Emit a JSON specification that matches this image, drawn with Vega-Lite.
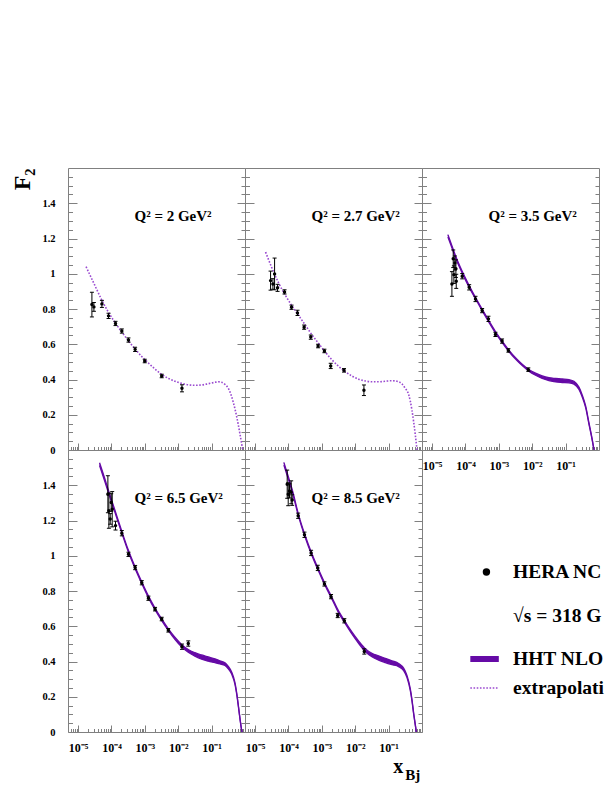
{
"$schema":"https://vega.github.io/schema/vega-lite/v6.json",
"background":"white",
"padding":{"left":10,"top":167,"right":0,"bottom":2},
"autosize":{"type":"pad"},
"bounds":"flush",
"spacing":0,
"columns":3,
"config":{
 "view":{"stroke":"#808080","strokeWidth":1},
 "axis":{"domain":false,"grid":false,"tickColor":"#808080","tickWidth":1,"labelFont":"Liberation Serif","labelFontWeight":"bold","labelFontSize":10.5,"labelColor":"#000","labelOverlap":false,"labelBound":false,"labelFlush":false},
 "text":{"font":"Liberation Serif","fontWeight":"bold","color":"#000"}
},
"datasets":{
 "pts":[
  {"q2":2,"x":0.000026,"y":0.825,"lo":0.755,"hi":0.895},
  {"q2":2,"x":0.00002985,"y":0.812,"lo":0.787,"hi":0.837},
  {"q2":2,"x":0.0000518,"y":0.829,"lo":0.809,"hi":0.849},
  {"q2":2,"x":0.0000818,"y":0.761,"lo":0.746,"hi":0.776},
  {"q2":2,"x":0.0001324,"y":0.718,"lo":0.706,"hi":0.73},
  {"q2":2,"x":0.0002046,"y":0.675,"lo":0.663,"hi":0.687},
  {"q2":2,"x":0.0003236,"y":0.624,"lo":0.612,"hi":0.636},
  {"q2":2,"x":0.000512,"y":0.571,"lo":0.559,"hi":0.583},
  {"q2":2,"x":0.000993,"y":0.505,"lo":0.495,"hi":0.515},
  {"q2":2,"x":0.003199,"y":0.42,"lo":0.41,"hi":0.43},
  {"q2":2,"x":0.01294,"y":0.35,"lo":0.33,"hi":0.37},
  {"q2":2.7,"x":0.00002917,"y":0.961,"lo":0.907,"hi":1.015},
  {"q2":2.7,"x":0.0000343,"y":0.942,"lo":0.912,"hi":0.972},
  {"q2":2.7,"x":0.00003846,"y":0.999,"lo":0.909,"hi":1.089},
  {"q2":2.7,"x":0.0000472,"y":0.92,"lo":0.9,"hi":0.94},
  {"q2":2.7,"x":0.0000764,"y":0.897,"lo":0.885,"hi":0.909},
  {"q2":2.7,"x":0.0001236,"y":0.81,"lo":0.798,"hi":0.822},
  {"q2":2.7,"x":0.0001866,"y":0.778,"lo":0.763,"hi":0.793},
  {"q2":2.7,"x":0.0002951,"y":0.697,"lo":0.685,"hi":0.709},
  {"q2":2.7,"x":0.0004667,"y":0.641,"lo":0.629,"hi":0.653},
  {"q2":2.7,"x":0.0007727,"y":0.59,"lo":0.58,"hi":0.6},
  {"q2":2.7,"x":0.001194,"y":0.562,"lo":0.552,"hi":0.572},
  {"q2":2.7,"x":0.001845,"y":0.477,"lo":0.462,"hi":0.492},
  {"q2":2.7,"x":0.004613,"y":0.452,"lo":0.442,"hi":0.462},
  {"q2":2.7,"x":0.01824,"y":0.339,"lo":0.309,"hi":0.369},
  {"q2":3.5,"x":0.00003936,"y":0.942,"lo":0.872,"hi":1.012},
  {"q2":3.5,"x":0.00004305,"y":1.085,"lo":1.035,"hi":1.135},
  {"q2":3.5,"x":0.00004508,"y":0.995,"lo":0.945,"hi":1.045},
  {"q2":3.5,"x":0.00004831,"y":1.061,"lo":1.021,"hi":1.101},
  {"q2":3.5,"x":0.00005176,"y":1.029,"lo":0.979,"hi":1.079},
  {"q2":3.5,"x":0.000053,"y":0.957,"lo":0.917,"hi":0.997},
  {"q2":3.5,"x":0.00008,"y":0.986,"lo":0.971,"hi":1.001},
  {"q2":3.5,"x":0.0001294,"y":0.923,"lo":0.908,"hi":0.938},
  {"q2":3.5,"x":0.0002,"y":0.857,"lo":0.842,"hi":0.872},
  {"q2":3.5,"x":0.0003162,"y":0.791,"lo":0.779,"hi":0.803},
  {"q2":3.5,"x":0.0004887,"y":0.744,"lo":0.729,"hi":0.759},
  {"q2":3.5,"x":0.0007907,"y":0.656,"lo":0.644,"hi":0.668},
  {"q2":3.5,"x":0.00125,"y":0.618,"lo":0.606,"hi":0.63},
  {"q2":3.5,"x":0.001932,"y":0.565,"lo":0.555,"hi":0.575},
  {"q2":3.5,"x":0.00764,"y":0.456,"lo":0.446,"hi":0.466},
  {"q2":6.5,"x":0.0000782,"y":1.349,"lo":1.244,"hi":1.454},
  {"q2":6.5,"x":0.0000838,"y":1.256,"lo":1.156,"hi":1.356},
  {"q2":6.5,"x":0.0000918,"y":1.209,"lo":1.179,"hi":1.239},
  {"q2":6.5,"x":0.0000984,"y":1.302,"lo":1.252,"hi":1.352},
  {"q2":6.5,"x":0.0001054,"y":1.264,"lo":1.164,"hi":1.364},
  {"q2":6.5,"x":0.0001324,"y":1.171,"lo":1.146,"hi":1.196},
  {"q2":6.5,"x":0.0002046,"y":1.128,"lo":1.113,"hi":1.143},
  {"q2":6.5,"x":0.0003236,"y":1.008,"lo":0.996,"hi":1.02},
  {"q2":6.5,"x":0.000513,"y":0.933,"lo":0.921,"hi":0.945},
  {"q2":6.5,"x":0.000809,"y":0.847,"lo":0.835,"hi":0.859},
  {"q2":6.5,"x":0.001279,"y":0.759,"lo":0.747,"hi":0.771},
  {"q2":6.5,"x":0.002023,"y":0.697,"lo":0.687,"hi":0.707},
  {"q2":6.5,"x":0.003199,"y":0.641,"lo":0.631,"hi":0.651},
  {"q2":6.5,"x":0.005058,"y":0.577,"lo":0.567,"hi":0.587},
  {"q2":6.5,"x":0.01294,"y":0.484,"lo":0.469,"hi":0.499},
  {"q2":6.5,"x":0.02,"y":0.502,"lo":0.487,"hi":0.517},
  {"q2":8.5,"x":0.0000918,"y":1.406,"lo":1.326,"hi":1.486},
  {"q2":8.5,"x":0.0000984,"y":1.349,"lo":1.284,"hi":1.414},
  {"q2":8.5,"x":0.0001076,"y":1.368,"lo":1.328,"hi":1.408},
  {"q2":8.5,"x":0.0001208,"y":1.36,"lo":1.295,"hi":1.425},
  {"q2":8.5,"x":0.0001294,"y":1.316,"lo":1.286,"hi":1.346},
  {"q2":8.5,"x":0.0001954,"y":1.227,"lo":1.212,"hi":1.242},
  {"q2":8.5,"x":0.000302,"y":1.119,"lo":1.104,"hi":1.134},
  {"q2":8.5,"x":0.0004775,"y":1.016,"lo":1.001,"hi":1.031},
  {"q2":8.5,"x":0.000755,"y":0.931,"lo":0.916,"hi":0.946},
  {"q2":8.5,"x":0.001194,"y":0.84,"lo":0.828,"hi":0.852},
  {"q2":8.5,"x":0.001888,"y":0.768,"lo":0.756,"hi":0.78},
  {"q2":8.5,"x":0.002985,"y":0.661,"lo":0.649,"hi":0.673},
  {"q2":8.5,"x":0.004721,"y":0.631,"lo":0.619,"hi":0.643},
  {"q2":8.5,"x":0.01866,"y":0.457,"lo":0.442,"hi":0.472}
 ],
 "extrap":[
  {"q2":2,"x":0.00001738,"f":1.04},{"q2":2,"x":0.00003162,"f":0.935},{"q2":2,"x":0.00005012,"f":0.855},{"q2":2,"x":0.00007943,"f":0.785},
  {"q2":2,"x":0.0001259,"f":0.725},{"q2":2,"x":0.0001995,"f":0.672},{"q2":2,"x":0.0003162,"f":0.622},{"q2":2,"x":0.0005012,"f":0.575},
  {"q2":2,"x":0.0007943,"f":0.532},{"q2":2,"x":0.001259,"f":0.495},{"q2":2,"x":0.001995,"f":0.46},{"q2":2,"x":0.003162,"f":0.43},
  {"q2":2,"x":0.005012,"f":0.407},{"q2":2,"x":0.007943,"f":0.39},{"q2":2,"x":0.01259,"f":0.378},{"q2":2,"x":0.01995,"f":0.37},
  {"q2":2,"x":0.03162,"f":0.367},{"q2":2,"x":0.05012,"f":0.369},{"q2":2,"x":0.07943,"f":0.376},{"q2":2,"x":0.1259,"f":0.384},
  {"q2":2,"x":0.1585,"f":0.387},{"q2":2,"x":0.1995,"f":0.384},{"q2":2,"x":0.2512,"f":0.372},{"q2":2,"x":0.3162,"f":0.35},
  {"q2":2,"x":0.3548,"f":0.33},{"q2":2,"x":0.4467,"f":0.27},{"q2":2,"x":0.5623,"f":0.19},{"q2":2,"x":0.7079,"f":0.09},{"q2":2,"x":0.851,"f":0.0},
  {"q2":2.7,"x":0.0000207,"f":1.123},{"q2":2.7,"x":0.00003162,"f":1.035},{"q2":2.7,"x":0.00005012,"f":0.95},{"q2":2.7,"x":0.00007943,"f":0.88},
  {"q2":2.7,"x":0.0001259,"f":0.82},{"q2":2.7,"x":0.0001995,"f":0.765},{"q2":2.7,"x":0.0003162,"f":0.71},{"q2":2.7,"x":0.0005012,"f":0.655},
  {"q2":2.7,"x":0.0007943,"f":0.605},{"q2":2.7,"x":0.001259,"f":0.557},{"q2":2.7,"x":0.001995,"f":0.512},{"q2":2.7,"x":0.003162,"f":0.475},
  {"q2":2.7,"x":0.005012,"f":0.445},{"q2":2.7,"x":0.007943,"f":0.42},{"q2":2.7,"x":0.01259,"f":0.402},{"q2":2.7,"x":0.01995,"f":0.392},
  {"q2":2.7,"x":0.03162,"f":0.387},{"q2":2.7,"x":0.05012,"f":0.387},{"q2":2.7,"x":0.07943,"f":0.39},{"q2":2.7,"x":0.1259,"f":0.393},
  {"q2":2.7,"x":0.1778,"f":0.39},{"q2":2.7,"x":0.2512,"f":0.375},{"q2":2.7,"x":0.3162,"f":0.35},{"q2":2.7,"x":0.3981,"f":0.315},
  {"q2":2.7,"x":0.5012,"f":0.225},{"q2":2.7,"x":0.5623,"f":0.16},{"q2":2.7,"x":0.631,"f":0.085},{"q2":2.7,"x":0.7079,"f":0.0}
 ],
 "band":[
  {"q2":3.5,"x":0.00002985,"lo":1.208,"hi":1.222},{"q2":3.5,"x":0.00003981,"lo":1.144,"hi":1.156},{"q2":3.5,"x":0.00005012,"lo":1.092,"hi":1.104},
  {"q2":3.5,"x":0.00007943,"lo":1.005,"hi":1.015},{"q2":3.5,"x":0.0001259,"lo":0.927,"hi":0.937},{"q2":3.5,"x":0.0001995,"lo":0.858,"hi":0.866},
  {"q2":3.5,"x":0.0003162,"lo":0.791,"hi":0.799},{"q2":3.5,"x":0.0005012,"lo":0.726,"hi":0.734},{"q2":3.5,"x":0.0007943,"lo":0.664,"hi":0.672},
  {"q2":3.5,"x":0.001259,"lo":0.609,"hi":0.617},{"q2":3.5,"x":0.001995,"lo":0.559,"hi":0.567},{"q2":3.5,"x":0.003162,"lo":0.516,"hi":0.524},
  {"q2":3.5,"x":0.005012,"lo":0.479,"hi":0.487},{"q2":3.5,"x":0.007943,"lo":0.447,"hi":0.457},{"q2":3.5,"x":0.01259,"lo":0.424,"hi":0.436},
  {"q2":3.5,"x":0.01995,"lo":0.406,"hi":0.42},{"q2":3.5,"x":0.03162,"lo":0.394,"hi":0.41},{"q2":3.5,"x":0.05012,"lo":0.386,"hi":0.406},
  {"q2":3.5,"x":0.07943,"lo":0.383,"hi":0.403},{"q2":3.5,"x":0.1259,"lo":0.381,"hi":0.399},{"q2":3.5,"x":0.1778,"lo":0.374,"hi":0.39},
  {"q2":3.5,"x":0.2512,"lo":0.343,"hi":0.357},{"q2":3.5,"x":0.3162,"lo":0.299,"hi":0.311},{"q2":3.5,"x":0.3981,"lo":0.24,"hi":0.25},
  {"q2":3.5,"x":0.5012,"lo":0.146,"hi":0.154},{"q2":3.5,"x":0.631,"lo":0.052,"hi":0.058},{"q2":3.5,"x":0.7079,"lo":0.0,"hi":0.002},
  {"q2":6.5,"x":0.00004406,"lo":1.512,"hi":1.528},{"q2":6.5,"x":0.0000631,"lo":1.422,"hi":1.438},{"q2":6.5,"x":0.00007943,"lo":1.363,"hi":1.377},
  {"q2":6.5,"x":0.0001259,"lo":1.249,"hi":1.261},{"q2":6.5,"x":0.0001995,"lo":1.135,"hi":1.145},{"q2":6.5,"x":0.0003162,"lo":1.025,"hi":1.035},
  {"q2":6.5,"x":0.0005012,"lo":0.93,"hi":0.94},{"q2":6.5,"x":0.0007943,"lo":0.845,"hi":0.855},{"q2":6.5,"x":0.001259,"lo":0.765,"hi":0.775},
  {"q2":6.5,"x":0.001995,"lo":0.695,"hi":0.705},{"q2":6.5,"x":0.003162,"lo":0.633,"hi":0.643},{"q2":6.5,"x":0.005012,"lo":0.577,"hi":0.587},
  {"q2":6.5,"x":0.007943,"lo":0.526,"hi":0.538},{"q2":6.5,"x":0.01259,"lo":0.483,"hi":0.497},{"q2":6.5,"x":0.01995,"lo":0.452,"hi":0.468},
  {"q2":6.5,"x":0.03162,"lo":0.43,"hi":0.45},{"q2":6.5,"x":0.05012,"lo":0.413,"hi":0.437},{"q2":6.5,"x":0.07943,"lo":0.402,"hi":0.426},
  {"q2":6.5,"x":0.1259,"lo":0.393,"hi":0.415},{"q2":6.5,"x":0.1778,"lo":0.386,"hi":0.404},{"q2":6.5,"x":0.2512,"lo":0.377,"hi":0.393},
  {"q2":6.5,"x":0.3162,"lo":0.358,"hi":0.372},{"q2":6.5,"x":0.3981,"lo":0.329,"hi":0.341},{"q2":6.5,"x":0.5012,"lo":0.27,"hi":0.28},
  {"q2":6.5,"x":0.5623,"lo":0.216,"hi":0.224},{"q2":6.5,"x":0.631,"lo":0.147,"hi":0.153},{"q2":6.5,"x":0.7079,"lo":0.073,"hi":0.077},
  {"q2":6.5,"x":0.7943,"lo":0.009,"hi":0.011},{"q2":6.5,"x":0.8128,"lo":0.0,"hi":0.001},
  {"q2":8.5,"x":0.00007295,"lo":1.514,"hi":1.53},{"q2":8.5,"x":0.0001,"lo":1.433,"hi":1.447},{"q2":8.5,"x":0.0001294,"lo":1.364,"hi":1.376},
  {"q2":8.5,"x":0.0001995,"lo":1.225,"hi":1.235},{"q2":8.5,"x":0.0003162,"lo":1.105,"hi":1.115},{"q2":8.5,"x":0.0005012,"lo":1.003,"hi":1.013},
  {"q2":8.5,"x":0.0007943,"lo":0.913,"hi":0.923},{"q2":8.5,"x":0.001259,"lo":0.83,"hi":0.84},{"q2":8.5,"x":0.001995,"lo":0.755,"hi":0.765},
  {"q2":8.5,"x":0.003162,"lo":0.677,"hi":0.687},{"q2":8.5,"x":0.005012,"lo":0.615,"hi":0.625},{"q2":8.5,"x":0.007943,"lo":0.556,"hi":0.568},
  {"q2":8.5,"x":0.01259,"lo":0.503,"hi":0.517},{"q2":8.5,"x":0.01995,"lo":0.457,"hi":0.473},{"q2":8.5,"x":0.03162,"lo":0.427,"hi":0.447},
  {"q2":8.5,"x":0.05012,"lo":0.408,"hi":0.432},{"q2":8.5,"x":0.07943,"lo":0.394,"hi":0.418},{"q2":8.5,"x":0.1259,"lo":0.382,"hi":0.404},
  {"q2":8.5,"x":0.1995,"lo":0.371,"hi":0.389},{"q2":8.5,"x":0.2818,"lo":0.348,"hi":0.362},{"q2":8.5,"x":0.3548,"lo":0.309,"hi":0.321},
  {"q2":8.5,"x":0.4467,"lo":0.235,"hi":0.245},{"q2":8.5,"x":0.5012,"lo":0.176,"hi":0.184},{"q2":8.5,"x":0.5623,"lo":0.102,"hi":0.108},
  {"q2":8.5,"x":0.631,"lo":0.038,"hi":0.042},{"q2":8.5,"x":0.6761,"lo":0.0,"hi":0.001}
 ],
 "legend":[
  {"label":"HERA NC e⁺p","kind":"data"},
  {"label":"√s = 318 GeV","kind":"info"},
  {"label":"HHT NLO","kind":"band"},
  {"label":"extrapolation","kind":"extrap"}
 ]
},
"concat":[
 {"width":177,"height":282,
  "layer":[
   {"data":{"name":"extrap"},"transform":[{"filter":"datum.q2==2"}],
    "mark":{"type":"line","color":"#9a4ad0","strokeWidth":1.6,"strokeDash":[1.6,1.6],"interpolate":"monotone","clip":true},
    "encoding":{"x":{"field":"x","type":"quantitative","scale":{"type":"log","domain":[0.000005,1],"nice":false},"axis":null},
     "y":{"field":"f","type":"quantitative","scale":{"domain":[0,1.6],"nice":false,"zero":false},"axis":null}}},
   {"data":{"name":"pts"},"transform":[{"filter":"datum.q2==2"}],
    "mark":{"type":"rule","color":"#000","strokeWidth":1},
    "encoding":{"x":{"field":"x","type":"quantitative","scale":{"type":"log","domain":[0.000005,1],"nice":false},"axis":null},
     "y":{"field":"lo","type":"quantitative","scale":{"domain":[0,1.6],"nice":false,"zero":false},
      "axis":{"orient":"right","values":[0,0.05,0.1,0.15,0.2,0.25,0.3,0.35,0.4,0.45,0.5,0.55,0.6,0.65,0.7,0.75,0.8,0.85,0.9,0.95,1,1.05,1.1,1.15,1.2,1.25,1.3,1.35,1.4,1.45,1.5,1.55],"tickSize":{"condition":{"test":"abs(datum.value*5-round(datum.value*5))<0.000001","value":-8},"value":-4},"labels":false,"title":null}},
     "y2":{"field":"hi"}}},
   {"data":{"name":"pts"},"transform":[{"filter":"datum.q2==2"}],
    "mark":{"type":"tick","orient":"horizontal","size":4,"thickness":1,"color":"#000","opacity":1},
    "encoding":{"x":{"field":"x","type":"quantitative","scale":{"type":"log","domain":[0.000005,1],"nice":false},"axis":null},
     "y":{"field":"lo","type":"quantitative","scale":{"domain":[0,1.6],"nice":false,"zero":false},"axis":null}}},
   {"data":{"name":"pts"},"transform":[{"filter":"datum.q2==2"}],
    "mark":{"type":"tick","orient":"horizontal","size":4,"thickness":1,"color":"#000","opacity":1},
    "encoding":{"x":{"field":"x","type":"quantitative","scale":{"type":"log","domain":[0.000005,1],"nice":false},"axis":null},
     "y":{"field":"hi","type":"quantitative","scale":{"domain":[0,1.6],"nice":false,"zero":false},"axis":null}}},
   {"data":{"name":"pts"},"transform":[{"filter":"datum.q2==2"}],
    "mark":{"type":"circle","size":12,"color":"#000","opacity":1},
    "encoding":{"x":{"field":"x","type":"quantitative","scale":{"type":"log","domain":[0.000005,1],"nice":false},
      "axis":{"orient":"bottom","values":[0.000006,0.000007,0.000008,0.000009,0.00001,0.00002,0.00003,0.00004,0.00005,0.00006,0.00007,0.00008,0.00009,0.0001,0.0002,0.0003,0.0004,0.0005,0.0006,0.0007,0.0008,0.0009,0.001,0.002,0.003,0.004,0.005,0.006,0.007,0.008,0.009,0.01,0.02,0.03,0.04,0.05,0.06,0.07,0.08,0.09,0.1,0.2,0.3,0.4,0.5,0.6,0.7,0.8,0.9],"tickSize":{"condition":{"test":"datum.value==0.00001||datum.value==0.0001||datum.value==0.001||datum.value==0.01||datum.value==0.1","value":-7},"value":-3.5},"labels":false,"title":null}},
     "y":{"field":"y","type":"quantitative","scale":{"domain":[0,1.6],"nice":false,"zero":false},
      "axis":{"orient":"left","values":[0,0.05,0.1,0.15,0.2,0.25,0.3,0.35,0.4,0.45,0.5,0.55,0.6,0.65,0.7,0.75,0.8,0.85,0.9,0.95,1,1.05,1.1,1.15,1.2,1.25,1.3,1.35,1.4,1.45,1.5,1.55],"tickSize":{"condition":{"test":"abs(datum.value*5-round(datum.value*5))<0.000001","value":-9},"value":-4.5},"labelExpr":"datum.value<1.55&&abs(datum.value*5-round(datum.value*5))<0.000001?toString(round(datum.value*10)/10):''","labelPadding":22,"title":"F₂","titleFont":"Liberation Serif","titleFontWeight":"bold","titleFontSize":24,"titleColor":"#000","titleAnchor":"end","titleAngle":270,"titlePadding":7}}}},
   {"data":{"values":[{}]},
    "mark":{"type":"text","align":"left","baseline":"middle","fontSize":15},
    "encoding":{"x":{"datum":0.00049,"type":"quantitative","scale":{"type":"log","domain":[0.000005,1],"nice":false},"axis":null},
     "y":{"datum":1.325,"type":"quantitative","scale":{"domain":[0,1.6],"nice":false,"zero":false},"axis":null},
     "text":{"value":"Q² = 2 GeV²"}}}
  ],
  "resolve":{"axis":{"x":"independent","y":"independent"}}},

 {"width":177,"height":282,
  "layer":[
   {"data":{"name":"extrap"},"transform":[{"filter":"datum.q2==2.7"}],
    "mark":{"type":"line","color":"#9a4ad0","strokeWidth":1.6,"strokeDash":[1.6,1.6],"interpolate":"monotone","clip":true},
    "encoding":{"x":{"field":"x","type":"quantitative","scale":{"type":"log","domain":[0.000005,1],"nice":false},"axis":null},
     "y":{"field":"f","type":"quantitative","scale":{"domain":[0,1.6],"nice":false,"zero":false},"axis":null}}},
   {"data":{"name":"pts"},"transform":[{"filter":"datum.q2==2.7"}],
    "mark":{"type":"rule","color":"#000","strokeWidth":1},
    "encoding":{"x":{"field":"x","type":"quantitative","scale":{"type":"log","domain":[0.000005,1],"nice":false},"axis":null},
     "y":{"field":"lo","type":"quantitative","scale":{"domain":[0,1.6],"nice":false,"zero":false},
      "axis":{"orient":"right","values":[0,0.05,0.1,0.15,0.2,0.25,0.3,0.35,0.4,0.45,0.5,0.55,0.6,0.65,0.7,0.75,0.8,0.85,0.9,0.95,1,1.05,1.1,1.15,1.2,1.25,1.3,1.35,1.4,1.45,1.5,1.55],"tickSize":{"condition":{"test":"abs(datum.value*5-round(datum.value*5))<0.000001","value":-8},"value":-4},"labels":false,"title":null}},
     "y2":{"field":"hi"}}},
   {"data":{"name":"pts"},"transform":[{"filter":"datum.q2==2.7"}],
    "mark":{"type":"tick","orient":"horizontal","size":4,"thickness":1,"color":"#000","opacity":1},
    "encoding":{"x":{"field":"x","type":"quantitative","scale":{"type":"log","domain":[0.000005,1],"nice":false},"axis":null},
     "y":{"field":"lo","type":"quantitative","scale":{"domain":[0,1.6],"nice":false,"zero":false},"axis":null}}},
   {"data":{"name":"pts"},"transform":[{"filter":"datum.q2==2.7"}],
    "mark":{"type":"tick","orient":"horizontal","size":4,"thickness":1,"color":"#000","opacity":1},
    "encoding":{"x":{"field":"x","type":"quantitative","scale":{"type":"log","domain":[0.000005,1],"nice":false},"axis":null},
     "y":{"field":"hi","type":"quantitative","scale":{"domain":[0,1.6],"nice":false,"zero":false},"axis":null}}},
   {"data":{"name":"pts"},"transform":[{"filter":"datum.q2==2.7"}],
    "mark":{"type":"circle","size":12,"color":"#000","opacity":1},
    "encoding":{"x":{"field":"x","type":"quantitative","scale":{"type":"log","domain":[0.000005,1],"nice":false},
      "axis":{"orient":"bottom","values":[0.000006,0.000007,0.000008,0.000009,0.00001,0.00002,0.00003,0.00004,0.00005,0.00006,0.00007,0.00008,0.00009,0.0001,0.0002,0.0003,0.0004,0.0005,0.0006,0.0007,0.0008,0.0009,0.001,0.002,0.003,0.004,0.005,0.006,0.007,0.008,0.009,0.01,0.02,0.03,0.04,0.05,0.06,0.07,0.08,0.09,0.1,0.2,0.3,0.4,0.5,0.6,0.7,0.8,0.9],"tickSize":{"condition":{"test":"datum.value==0.00001||datum.value==0.0001||datum.value==0.001||datum.value==0.01||datum.value==0.1","value":-7},"value":-3.5},"labels":false,"title":null}},
     "y":{"field":"y","type":"quantitative","scale":{"domain":[0,1.6],"nice":false,"zero":false},
      "axis":{"orient":"left","values":[0,0.05,0.1,0.15,0.2,0.25,0.3,0.35,0.4,0.45,0.5,0.55,0.6,0.65,0.7,0.75,0.8,0.85,0.9,0.95,1,1.05,1.1,1.15,1.2,1.25,1.3,1.35,1.4,1.45,1.5,1.55],"tickSize":{"condition":{"test":"abs(datum.value*5-round(datum.value*5))<0.000001","value":-9},"value":-4.5},"labels":false,"title":null}}}},
   {"data":{"values":[{}]},
    "mark":{"type":"text","align":"left","baseline":"middle","fontSize":15},
    "encoding":{"x":{"datum":0.00049,"type":"quantitative","scale":{"type":"log","domain":[0.000005,1],"nice":false},"axis":null},
     "y":{"datum":1.325,"type":"quantitative","scale":{"domain":[0,1.6],"nice":false,"zero":false},"axis":null},
     "text":{"value":"Q² = 2.7 GeV²"}}}
  ],
  "resolve":{"axis":{"x":"independent","y":"independent"}}},

 {"width":177,"height":282,
  "layer":[
   {"data":{"name":"band"},"transform":[{"filter":"datum.q2==3.5"}],
    "mark":{"type":"area","color":"#650aa6","opacity":1,"interpolate":"monotone","clip":true},
    "encoding":{"x":{"field":"x","type":"quantitative","scale":{"type":"log","domain":[0.000005,1],"nice":false},"axis":null},
     "y":{"field":"lo","type":"quantitative","scale":{"domain":[0,1.6],"nice":false,"zero":false},"axis":null},"y2":{"field":"hi"}}},
   {"data":{"name":"band"},"transform":[{"filter":"datum.q2==3.5"}],
    "mark":{"type":"line","color":"#650aa6","strokeWidth":1.3,"interpolate":"monotone","clip":true},
    "encoding":{"x":{"field":"x","type":"quantitative","scale":{"type":"log","domain":[0.000005,1],"nice":false},"axis":null},
     "y":{"field":"lo","type":"quantitative","scale":{"domain":[0,1.6],"nice":false,"zero":false},"axis":null}}},
   {"data":{"name":"band"},"transform":[{"filter":"datum.q2==3.5"}],
    "mark":{"type":"line","color":"#650aa6","strokeWidth":1.3,"interpolate":"monotone","clip":true},
    "encoding":{"x":{"field":"x","type":"quantitative","scale":{"type":"log","domain":[0.000005,1],"nice":false},"axis":null},
     "y":{"field":"hi","type":"quantitative","scale":{"domain":[0,1.6],"nice":false,"zero":false},"axis":null}}},
   {"data":{"name":"pts"},"transform":[{"filter":"datum.q2==3.5"}],
    "mark":{"type":"rule","color":"#000","strokeWidth":1},
    "encoding":{"x":{"field":"x","type":"quantitative","scale":{"type":"log","domain":[0.000005,1],"nice":false},"axis":null},
     "y":{"field":"lo","type":"quantitative","scale":{"domain":[0,1.6],"nice":false,"zero":false},
      "axis":{"orient":"right","values":[0,0.05,0.1,0.15,0.2,0.25,0.3,0.35,0.4,0.45,0.5,0.55,0.6,0.65,0.7,0.75,0.8,0.85,0.9,0.95,1,1.05,1.1,1.15,1.2,1.25,1.3,1.35,1.4,1.45,1.5,1.55],"tickSize":{"condition":{"test":"abs(datum.value*5-round(datum.value*5))<0.000001","value":-8},"value":-4},"labels":false,"title":null}},
     "y2":{"field":"hi"}}},
   {"data":{"name":"pts"},"transform":[{"filter":"datum.q2==3.5"}],
    "mark":{"type":"tick","orient":"horizontal","size":4,"thickness":1,"color":"#000","opacity":1},
    "encoding":{"x":{"field":"x","type":"quantitative","scale":{"type":"log","domain":[0.000005,1],"nice":false},"axis":null},
     "y":{"field":"lo","type":"quantitative","scale":{"domain":[0,1.6],"nice":false,"zero":false},"axis":null}}},
   {"data":{"name":"pts"},"transform":[{"filter":"datum.q2==3.5"}],
    "mark":{"type":"tick","orient":"horizontal","size":4,"thickness":1,"color":"#000","opacity":1},
    "encoding":{"x":{"field":"x","type":"quantitative","scale":{"type":"log","domain":[0.000005,1],"nice":false},"axis":null},
     "y":{"field":"hi","type":"quantitative","scale":{"domain":[0,1.6],"nice":false,"zero":false},"axis":null}}},
   {"data":{"name":"pts"},"transform":[{"filter":"datum.q2==3.5"}],
    "mark":{"type":"circle","size":12,"color":"#000","opacity":1},
    "encoding":{"x":{"field":"x","type":"quantitative","scale":{"type":"log","domain":[0.000005,1],"nice":false},
      "axis":{"orient":"bottom","values":[0.000006,0.000007,0.000008,0.000009,0.00001,0.00002,0.00003,0.00004,0.00005,0.00006,0.00007,0.00008,0.00009,0.0001,0.0002,0.0003,0.0004,0.0005,0.0006,0.0007,0.0008,0.0009,0.001,0.002,0.003,0.004,0.005,0.006,0.007,0.008,0.009,0.01,0.02,0.03,0.04,0.05,0.06,0.07,0.08,0.09,0.1,0.2,0.3,0.4,0.5,0.6,0.7,0.8,0.9],"tickSize":{"condition":{"test":"datum.value==0.00001||datum.value==0.0001||datum.value==0.001||datum.value==0.01||datum.value==0.1","value":-7},"value":-3.5},"labelExpr":"datum.value==0.00001?'10⁻⁵':datum.value==0.0001?'10⁻⁴':datum.value==0.001?'10⁻³':datum.value==0.01?'10⁻²':datum.value==0.1?'10⁻¹':''","labelFontSize":12,"labelPadding":17,"title":null}},
     "y":{"field":"y","type":"quantitative","scale":{"domain":[0,1.6],"nice":false,"zero":false},
      "axis":{"orient":"left","values":[0,0.05,0.1,0.15,0.2,0.25,0.3,0.35,0.4,0.45,0.5,0.55,0.6,0.65,0.7,0.75,0.8,0.85,0.9,0.95,1,1.05,1.1,1.15,1.2,1.25,1.3,1.35,1.4,1.45,1.5,1.55],"tickSize":{"condition":{"test":"abs(datum.value*5-round(datum.value*5))<0.000001","value":-9},"value":-4.5},"labels":false,"title":null}}}},
   {"data":{"values":[{}]},
    "mark":{"type":"text","align":"left","baseline":"middle","fontSize":15},
    "encoding":{"x":{"datum":0.00049,"type":"quantitative","scale":{"type":"log","domain":[0.000005,1],"nice":false},"axis":null},
     "y":{"datum":1.325,"type":"quantitative","scale":{"domain":[0,1.6],"nice":false,"zero":false},"axis":null},
     "text":{"value":"Q² = 3.5 GeV²"}}}
  ],
  "resolve":{"axis":{"x":"independent","y":"independent"}}},

 {"width":177,"height":282,
  "layer":[
   {"data":{"name":"band"},"transform":[{"filter":"datum.q2==6.5"}],
    "mark":{"type":"area","color":"#650aa6","opacity":1,"interpolate":"monotone","clip":true},
    "encoding":{"x":{"field":"x","type":"quantitative","scale":{"type":"log","domain":[0.000005,1],"nice":false},"axis":null},
     "y":{"field":"lo","type":"quantitative","scale":{"domain":[0,1.6],"nice":false,"zero":false},"axis":null},"y2":{"field":"hi"}}},
   {"data":{"name":"band"},"transform":[{"filter":"datum.q2==6.5"}],
    "mark":{"type":"line","color":"#650aa6","strokeWidth":1.3,"interpolate":"monotone","clip":true},
    "encoding":{"x":{"field":"x","type":"quantitative","scale":{"type":"log","domain":[0.000005,1],"nice":false},"axis":null},
     "y":{"field":"lo","type":"quantitative","scale":{"domain":[0,1.6],"nice":false,"zero":false},"axis":null}}},
   {"data":{"name":"band"},"transform":[{"filter":"datum.q2==6.5"}],
    "mark":{"type":"line","color":"#650aa6","strokeWidth":1.3,"interpolate":"monotone","clip":true},
    "encoding":{"x":{"field":"x","type":"quantitative","scale":{"type":"log","domain":[0.000005,1],"nice":false},"axis":null},
     "y":{"field":"hi","type":"quantitative","scale":{"domain":[0,1.6],"nice":false,"zero":false},"axis":null}}},
   {"data":{"name":"pts"},"transform":[{"filter":"datum.q2==6.5"}],
    "mark":{"type":"rule","color":"#000","strokeWidth":1},
    "encoding":{"x":{"field":"x","type":"quantitative","scale":{"type":"log","domain":[0.000005,1],"nice":false},"axis":null},
     "y":{"field":"lo","type":"quantitative","scale":{"domain":[0,1.6],"nice":false,"zero":false},
      "axis":{"orient":"right","values":[0,0.05,0.1,0.15,0.2,0.25,0.3,0.35,0.4,0.45,0.5,0.55,0.6,0.65,0.7,0.75,0.8,0.85,0.9,0.95,1,1.05,1.1,1.15,1.2,1.25,1.3,1.35,1.4,1.45,1.5,1.55],"tickSize":{"condition":{"test":"abs(datum.value*5-round(datum.value*5))<0.000001","value":-8},"value":-4},"labels":false,"title":null}},
     "y2":{"field":"hi"}}},
   {"data":{"name":"pts"},"transform":[{"filter":"datum.q2==6.5"}],
    "mark":{"type":"tick","orient":"horizontal","size":4,"thickness":1,"color":"#000","opacity":1},
    "encoding":{"x":{"field":"x","type":"quantitative","scale":{"type":"log","domain":[0.000005,1],"nice":false},"axis":null},
     "y":{"field":"lo","type":"quantitative","scale":{"domain":[0,1.6],"nice":false,"zero":false},"axis":null}}},
   {"data":{"name":"pts"},"transform":[{"filter":"datum.q2==6.5"}],
    "mark":{"type":"tick","orient":"horizontal","size":4,"thickness":1,"color":"#000","opacity":1},
    "encoding":{"x":{"field":"x","type":"quantitative","scale":{"type":"log","domain":[0.000005,1],"nice":false},"axis":null},
     "y":{"field":"hi","type":"quantitative","scale":{"domain":[0,1.6],"nice":false,"zero":false},"axis":null}}},
   {"data":{"name":"pts"},"transform":[{"filter":"datum.q2==6.5"}],
    "mark":{"type":"circle","size":12,"color":"#000","opacity":1},
    "encoding":{"x":{"field":"x","type":"quantitative","scale":{"type":"log","domain":[0.000005,1],"nice":false},
      "axis":{"orient":"bottom","values":[0.000006,0.000007,0.000008,0.000009,0.00001,0.00002,0.00003,0.00004,0.00005,0.00006,0.00007,0.00008,0.00009,0.0001,0.0002,0.0003,0.0004,0.0005,0.0006,0.0007,0.0008,0.0009,0.001,0.002,0.003,0.004,0.005,0.006,0.007,0.008,0.009,0.01,0.02,0.03,0.04,0.05,0.06,0.07,0.08,0.09,0.1,0.2,0.3,0.4,0.5,0.6,0.7,0.8,0.9],"tickSize":{"condition":{"test":"datum.value==0.00001||datum.value==0.0001||datum.value==0.001||datum.value==0.01||datum.value==0.1","value":-7},"value":-3.5},"labelExpr":"datum.value==0.00001?'10⁻⁵':datum.value==0.0001?'10⁻⁴':datum.value==0.001?'10⁻³':datum.value==0.01?'10⁻²':datum.value==0.1?'10⁻¹':''","labelFontSize":12,"labelPadding":17,"title":null}},
     "y":{"field":"y","type":"quantitative","scale":{"domain":[0,1.6],"nice":false,"zero":false},
      "axis":{"orient":"left","values":[0,0.05,0.1,0.15,0.2,0.25,0.3,0.35,0.4,0.45,0.5,0.55,0.6,0.65,0.7,0.75,0.8,0.85,0.9,0.95,1,1.05,1.1,1.15,1.2,1.25,1.3,1.35,1.4,1.45,1.5,1.55],"tickSize":{"condition":{"test":"abs(datum.value*5-round(datum.value*5))<0.000001","value":-9},"value":-4.5},"labelExpr":"datum.value<1.55&&abs(datum.value*5-round(datum.value*5))<0.000001?toString(round(datum.value*10)/10):''","labelPadding":22,"title":null}}}},
   {"data":{"values":[{}]},
    "mark":{"type":"text","align":"left","baseline":"middle","fontSize":15},
    "encoding":{"x":{"datum":0.00049,"type":"quantitative","scale":{"type":"log","domain":[0.000005,1],"nice":false},"axis":null},
     "y":{"datum":1.325,"type":"quantitative","scale":{"domain":[0,1.6],"nice":false,"zero":false},"axis":null},
     "text":{"value":"Q² = 6.5 GeV²"}}}
  ],
  "resolve":{"axis":{"x":"independent","y":"independent"}}},

 {"width":177,"height":282,
  "layer":[
   {"data":{"name":"band"},"transform":[{"filter":"datum.q2==8.5"}],
    "mark":{"type":"area","color":"#650aa6","opacity":1,"interpolate":"monotone","clip":true},
    "encoding":{"x":{"field":"x","type":"quantitative","scale":{"type":"log","domain":[0.000005,1],"nice":false},"axis":null},
     "y":{"field":"lo","type":"quantitative","scale":{"domain":[0,1.6],"nice":false,"zero":false},"axis":null},"y2":{"field":"hi"}}},
   {"data":{"name":"band"},"transform":[{"filter":"datum.q2==8.5"}],
    "mark":{"type":"line","color":"#650aa6","strokeWidth":1.3,"interpolate":"monotone","clip":true},
    "encoding":{"x":{"field":"x","type":"quantitative","scale":{"type":"log","domain":[0.000005,1],"nice":false},"axis":null},
     "y":{"field":"lo","type":"quantitative","scale":{"domain":[0,1.6],"nice":false,"zero":false},"axis":null}}},
   {"data":{"name":"band"},"transform":[{"filter":"datum.q2==8.5"}],
    "mark":{"type":"line","color":"#650aa6","strokeWidth":1.3,"interpolate":"monotone","clip":true},
    "encoding":{"x":{"field":"x","type":"quantitative","scale":{"type":"log","domain":[0.000005,1],"nice":false},"axis":null},
     "y":{"field":"hi","type":"quantitative","scale":{"domain":[0,1.6],"nice":false,"zero":false},"axis":null}}},
   {"data":{"name":"pts"},"transform":[{"filter":"datum.q2==8.5"}],
    "mark":{"type":"rule","color":"#000","strokeWidth":1},
    "encoding":{"x":{"field":"x","type":"quantitative","scale":{"type":"log","domain":[0.000005,1],"nice":false},"axis":null},
     "y":{"field":"lo","type":"quantitative","scale":{"domain":[0,1.6],"nice":false,"zero":false},
      "axis":{"orient":"right","values":[0,0.05,0.1,0.15,0.2,0.25,0.3,0.35,0.4,0.45,0.5,0.55,0.6,0.65,0.7,0.75,0.8,0.85,0.9,0.95,1,1.05,1.1,1.15,1.2,1.25,1.3,1.35,1.4,1.45,1.5,1.55],"tickSize":{"condition":{"test":"abs(datum.value*5-round(datum.value*5))<0.000001","value":-8},"value":-4},"labels":false,"title":null}},
     "y2":{"field":"hi"}}},
   {"data":{"name":"pts"},"transform":[{"filter":"datum.q2==8.5"}],
    "mark":{"type":"tick","orient":"horizontal","size":4,"thickness":1,"color":"#000","opacity":1},
    "encoding":{"x":{"field":"x","type":"quantitative","scale":{"type":"log","domain":[0.000005,1],"nice":false},"axis":null},
     "y":{"field":"lo","type":"quantitative","scale":{"domain":[0,1.6],"nice":false,"zero":false},"axis":null}}},
   {"data":{"name":"pts"},"transform":[{"filter":"datum.q2==8.5"}],
    "mark":{"type":"tick","orient":"horizontal","size":4,"thickness":1,"color":"#000","opacity":1},
    "encoding":{"x":{"field":"x","type":"quantitative","scale":{"type":"log","domain":[0.000005,1],"nice":false},"axis":null},
     "y":{"field":"hi","type":"quantitative","scale":{"domain":[0,1.6],"nice":false,"zero":false},"axis":null}}},
   {"data":{"name":"pts"},"transform":[{"filter":"datum.q2==8.5"}],
    "mark":{"type":"circle","size":12,"color":"#000","opacity":1},
    "encoding":{"x":{"field":"x","type":"quantitative","scale":{"type":"log","domain":[0.000005,1],"nice":false},
      "axis":{"orient":"bottom","values":[0.000006,0.000007,0.000008,0.000009,0.00001,0.00002,0.00003,0.00004,0.00005,0.00006,0.00007,0.00008,0.00009,0.0001,0.0002,0.0003,0.0004,0.0005,0.0006,0.0007,0.0008,0.0009,0.001,0.002,0.003,0.004,0.005,0.006,0.007,0.008,0.009,0.01,0.02,0.03,0.04,0.05,0.06,0.07,0.08,0.09,0.1,0.2,0.3,0.4,0.5,0.6,0.7,0.8,0.9],"tickSize":{"condition":{"test":"datum.value==0.00001||datum.value==0.0001||datum.value==0.001||datum.value==0.01||datum.value==0.1","value":-7},"value":-3.5},"labelExpr":"datum.value==0.00001?'10⁻⁵':datum.value==0.0001?'10⁻⁴':datum.value==0.001?'10⁻³':datum.value==0.01?'10⁻²':datum.value==0.1?'10⁻¹':''","labelFontSize":12,"labelPadding":17,"title":null}},
     "y":{"field":"y","type":"quantitative","scale":{"domain":[0,1.6],"nice":false,"zero":false},
      "axis":{"orient":"left","values":[0,0.05,0.1,0.15,0.2,0.25,0.3,0.35,0.4,0.45,0.5,0.55,0.6,0.65,0.7,0.75,0.8,0.85,0.9,0.95,1,1.05,1.1,1.15,1.2,1.25,1.3,1.35,1.4,1.45,1.5,1.55],"tickSize":{"condition":{"test":"abs(datum.value*5-round(datum.value*5))<0.000001","value":-9},"value":-4.5},"labels":false,"title":null}}}},
   {"data":{"values":[{}]},
    "mark":{"type":"text","align":"left","baseline":"middle","fontSize":15},
    "encoding":{"x":{"datum":0.00049,"type":"quantitative","scale":{"type":"log","domain":[0.000005,1],"nice":false},"axis":null},
     "y":{"datum":1.325,"type":"quantitative","scale":{"domain":[0,1.6],"nice":false,"zero":false},"axis":null},
     "text":{"value":"Q² = 8.5 GeV²"}}},
   {"data":{"values":[{}]},
    "mark":{"type":"text","align":"center","baseline":"alphabetic","fontSize":20},
    "encoding":{"x":{"datum":0.195,"type":"quantitative","scale":{"type":"log","domain":[0.000005,1],"nice":false},"axis":null},
     "y":{"datum":-0.232,"type":"quantitative","scale":{"domain":[0,1.6],"nice":false,"zero":false},"axis":null},
     "text":{"value":"x"}}},
   {"data":{"values":[{}]},
    "mark":{"type":"text","align":"left","baseline":"alphabetic","fontSize":15},
    "encoding":{"x":{"datum":0.315,"type":"quantitative","scale":{"type":"log","domain":[0.000005,1],"nice":false},"axis":null},
     "y":{"datum":-0.272,"type":"quantitative","scale":{"domain":[0,1.6],"nice":false,"zero":false},"axis":null},
     "text":{"value":"Bj"}}}
  ],
  "resolve":{"axis":{"x":"independent","y":"independent"}}},

 {"width":177,"height":282,
  "view":{"stroke":null},
  "layer":[
   {"data":{"name":"legend"},
    "mark":{"type":"text","align":"left","baseline":"middle","fontSize":19.5,"limit":96,"ellipsis":"\u200b"},
    "encoding":{"x":{"datum":0.514,"type":"quantitative","scale":{"domain":[0,1]},"axis":null},
     "y":{"field":"label","type":"nominal","sort":null,"scale":{"type":"point","domain":["_0","_1","_2","_3","_4","_5","_6","_7","HERA NC e⁺p","_9","_10","√s = 318 GeV","_12","_13","HHT NLO","_15","extrapolation","_17","_18"],"padding":0.724,"align":0.286},"axis":null},
     "text":{"field":"label"}}},
   {"data":{"name":"legend"},"transform":[{"filter":"datum.kind=='data'"}],
    "mark":{"type":"circle","size":55,"color":"#000","opacity":1},
    "encoding":{"x":{"datum":0.364,"type":"quantitative","scale":{"domain":[0,1]},"axis":null},
     "y":{"field":"label","type":"nominal","sort":null,"scale":{"type":"point","domain":["_0","_1","_2","_3","_4","_5","_6","_7","HERA NC e⁺p","_9","_10","√s = 318 GeV","_12","_13","HHT NLO","_15","extrapolation","_17","_18"],"padding":0.724,"align":0.286},"axis":null}}},
   {"data":{"name":"legend"},"transform":[{"filter":"datum.kind=='band'"}],
    "mark":{"type":"rule","strokeWidth":6,"color":"#650aa6","strokeCap":"butt"},
    "encoding":{"x":{"datum":0.273,"type":"quantitative","scale":{"domain":[0,1]},"axis":null},"x2":{"datum":0.434},
     "y":{"field":"label","type":"nominal","sort":null,"scale":{"type":"point","domain":["_0","_1","_2","_3","_4","_5","_6","_7","HERA NC e⁺p","_9","_10","√s = 318 GeV","_12","_13","HHT NLO","_15","extrapolation","_17","_18"],"padding":0.724,"align":0.286},"axis":null}}},
   {"data":{"name":"legend"},"transform":[{"filter":"datum.kind=='extrap'"}],
    "mark":{"type":"rule","strokeWidth":1.6,"strokeDash":[1.6,1.6],"color":"#9a4ad0","strokeCap":"butt"},
    "encoding":{"x":{"datum":0.273,"type":"quantitative","scale":{"domain":[0,1]},"axis":null},"x2":{"datum":0.434},
     "y":{"field":"label","type":"nominal","sort":null,"scale":{"type":"point","domain":["_0","_1","_2","_3","_4","_5","_6","_7","HERA NC e⁺p","_9","_10","√s = 318 GeV","_12","_13","HHT NLO","_15","extrapolation","_17","_18"],"padding":0.724,"align":0.286},"axis":null}}}
  ]}
]
}
